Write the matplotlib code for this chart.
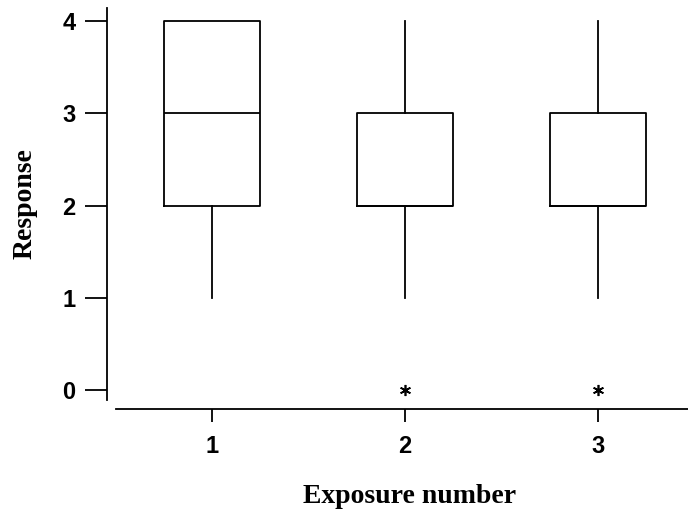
import matplotlib
matplotlib.use("Agg")
import matplotlib.pyplot as plt

# box statistics
exposures = [1, 2, 3]
whisker_low = [1, 1, 1]
q1 = [2, 2, 2]
medians = [3, 2, 2]
q3 = [4, 3, 3]
whisker_high = [4, 4, 4]
outliers = [[], [0], [0]]

stats = []
for i in range(len(exposures)):
    stats.append({"med": medians[i], "q1": q1[i], "q3": q3[i],
                  "whislo": whisker_low[i], "whishi": whisker_high[i],
                  "fliers": outliers[i], "label": str(exposures[i])})

fig = plt.figure(figsize=(6.88, 5.17), dpi=100)
ax = fig.add_axes([0.1686, 0.2263, 0.8314, 0.7582])

lw = 1.3
ax.bxp(stats, positions=exposures, widths=0.5, showcaps=False,
       boxprops=dict(color="black", linewidth=lw),
       whiskerprops=dict(color="black", linewidth=lw),
       medianprops=dict(color="black", linewidth=lw),
       flierprops=dict(marker=(6, 2, 0), markersize=8, markeredgewidth=1.2,
                       markerfacecolor="black", markeredgecolor="black",
                       linestyle="none"))

ax.set_xlim(0.503, 3.466)
ax.set_ylim(-0.108, 4.141)
ax.set_yticks([0, 1, 2, 3, 4])
ax.set_xticks(exposures)
ax.set_xticklabels([str(e) for e in exposures])

for s in ["top", "right"]:
    ax.spines[s].set_visible(False)
for s in ["left", "bottom"]:
    ax.spines[s].set_position(("outward", 6.5))
    ax.spines[s].set_linewidth(lw)

ax.tick_params(axis="y", length=15.5, width=lw, pad=7)
ax.tick_params(axis="x", length=9.4, width=lw, pad=9)
for lab in ax.get_xticklabels() + ax.get_yticklabels():
    lab.set_fontfamily("Liberation Sans")
    lab.set_fontweight("bold")
    lab.set_fontsize(17)

ax.set_xlabel("Exposure number", fontfamily="Liberation Serif",
              fontweight="bold", fontsize=20, labelpad=19)
ax.xaxis.label.set_x(0.513)
ax.set_ylabel("Response", fontfamily="Liberation Serif",
              fontweight="bold", fontsize=20, labelpad=18)

fig.savefig("out.png", dpi=100)
